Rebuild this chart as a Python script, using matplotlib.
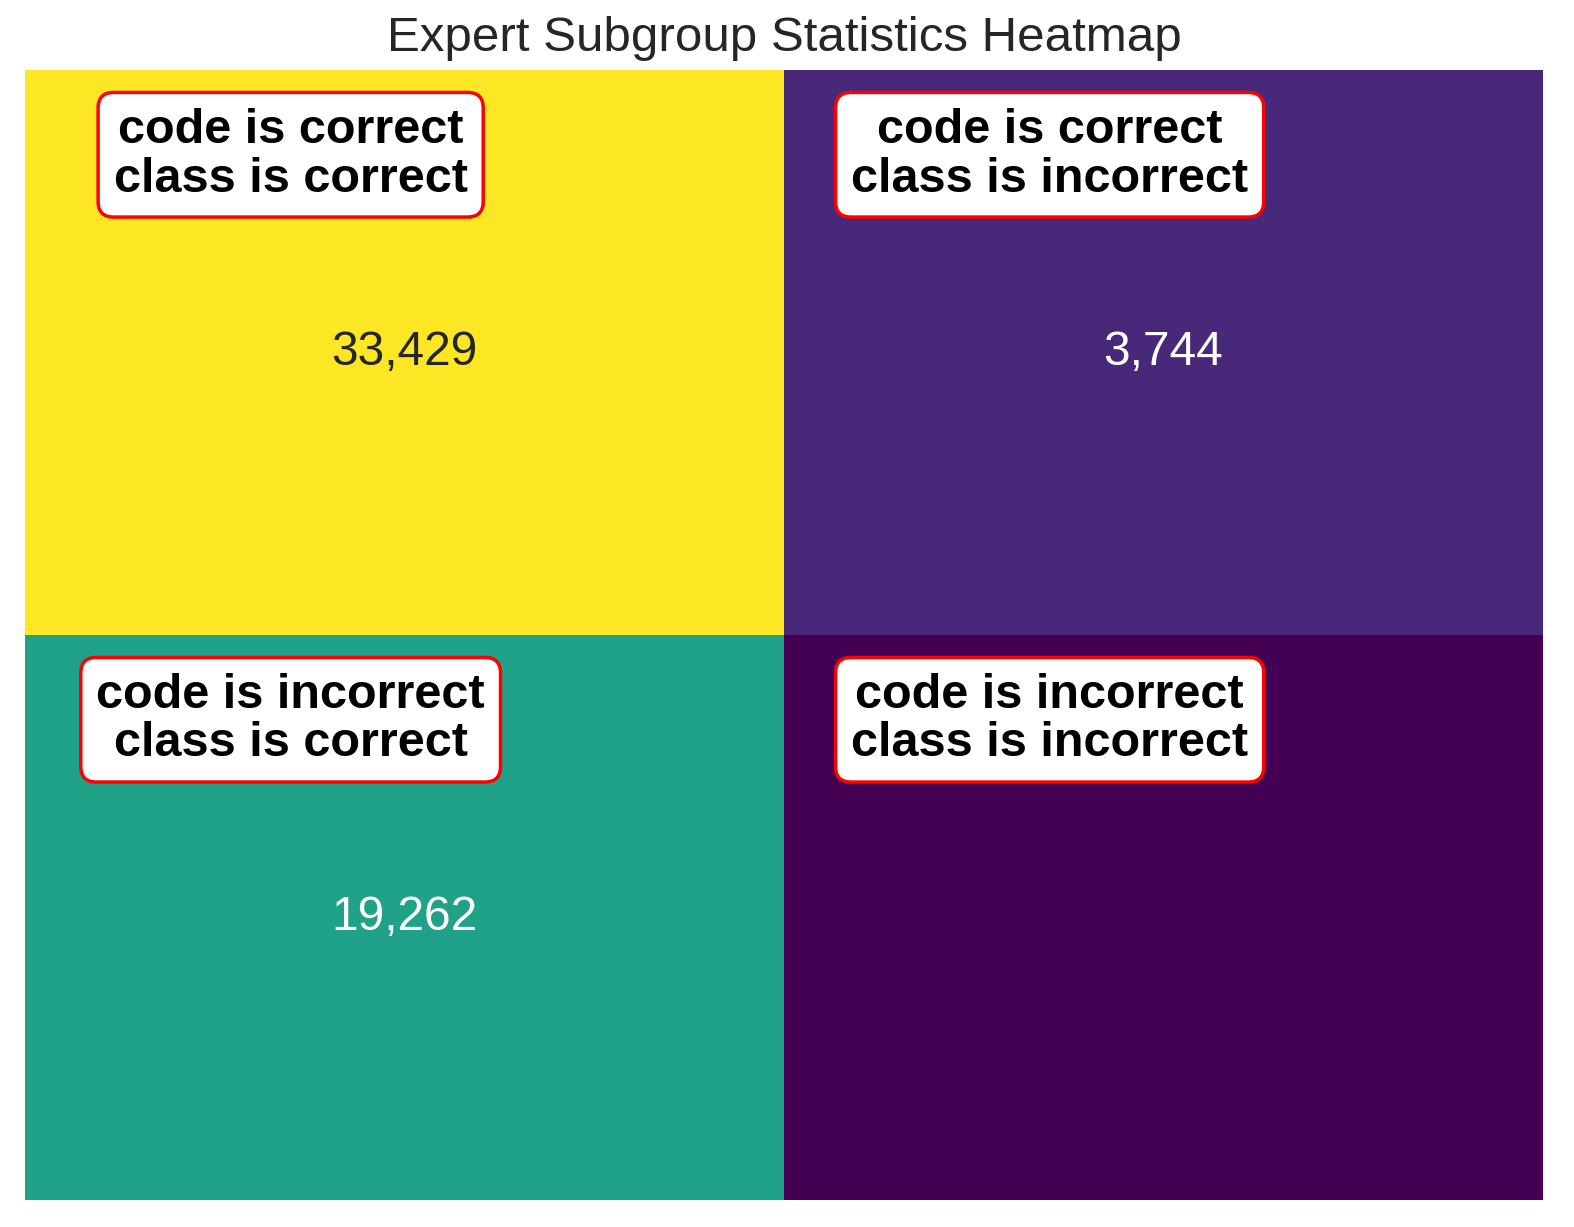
import numpy as np
import matplotlib
matplotlib.use('Agg')
import matplotlib.pyplot as plt
import seaborn as sns

# subgroup counts
code_status = ["code is correct", "code is incorrect"]
class_status = ["class is correct", "class is incorrect"]
counts = [[33429, 3744],
          [19262, 0]]
count_labels = [["33,429", "3,744"],
                ["19,262", ""]]

sns.set_style("white")
plt.rcParams['font.family'] = ['Liberation Sans', 'DejaVu Sans']

fig, ax = plt.subplots(figsize=(15.74, 12.27), dpi=100)
sns.heatmap(np.array(counts), annot=np.array(count_labels), fmt="", cmap="viridis",
            cbar=False, xticklabels=False, yticklabels=False, ax=ax,
            annot_kws={"size": 34.5})

# subgroup labels in the top-left of each cell
for i, code in enumerate(code_status):
    for j, cls in enumerate(class_status):
        ax.text(j + 0.35, i + 0.15, f"{code}\n{cls}", ha="center", va="center",
                fontsize=35, fontweight="bold", color="black", linespacing=1.1,
                bbox=dict(boxstyle="round,pad=0.32", fc="white", ec="red", lw=2.5))

ax.set_title("Expert Subgroup Statistics Heatmap", fontsize=35.5, color="#262626", pad=14)
fig.subplots_adjust(left=25 / 1574, right=1543 / 1574, top=1 - 70 / 1227, bottom=1 - 1200 / 1227)
fig.savefig("out.png")
